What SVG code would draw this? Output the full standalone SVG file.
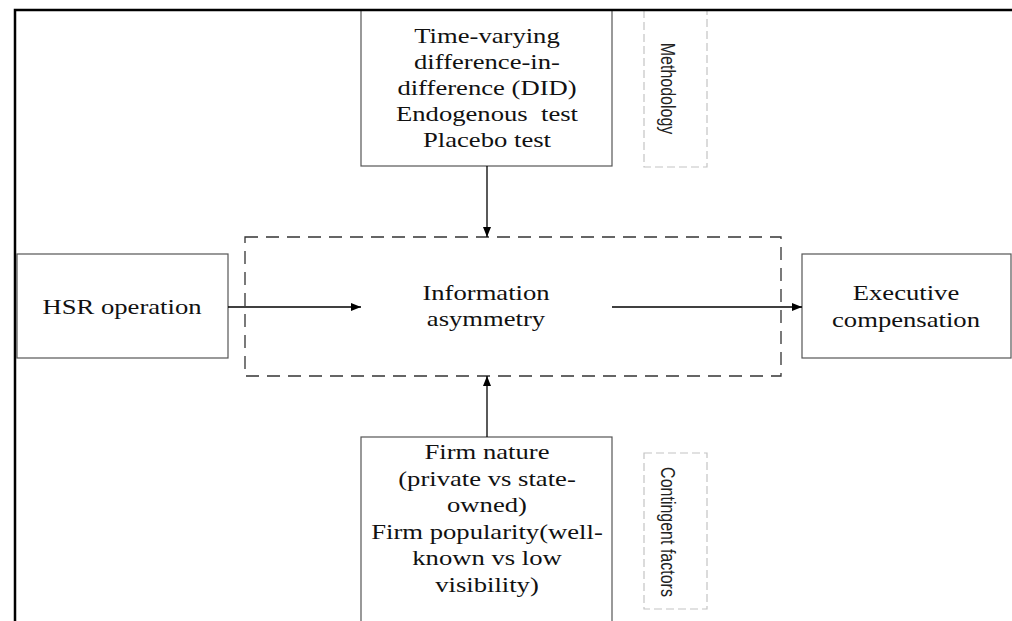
<svg xmlns="http://www.w3.org/2000/svg" width="1012" height="621" viewBox="0 0 1012 621">
  <defs>
    <marker id="arr" viewBox="0 0 10 8" refX="10" refY="4" markerWidth="10" markerHeight="8" markerUnits="userSpaceOnUse" orient="auto">
      <path d="M0,0 L10,4 L0,8 z" fill="#000"/>
    </marker>
  </defs>
  <style>
    .box { fill: #fff; stroke: #555; stroke-width: 1.2; }
    .dash { fill: none; stroke: #333; stroke-width: 1.3; stroke-dasharray: 13 8; }
    .ldash { fill: none; stroke: #c4c4c4; stroke-width: 1.2; stroke-dasharray: 8 4; }
    .frame { stroke: #000; stroke-width: 2.5; fill: none; }
    .t { font-family: "Liberation Serif", "Times New Roman", serif; font-size: 20.5px; fill: #111; text-anchor: middle; }
    .s { font-family: "Liberation Sans", Arial, sans-serif; font-size: 16px; fill: #222; text-anchor: middle; }
    .conn { stroke: #000; stroke-width: 1.3; fill: none; marker-end: url(#arr); }
  </style>
  <rect width="1012" height="621" fill="#fff"/>

  <g id="info-area">
    <rect class="dash" x="245" y="237" width="536" height="139"/>
    <text class="t" transform="translate(486,300) scale(1.3,1)">Information</text>
    <text class="t" transform="translate(486,326) scale(1.3,1)">asymmetry</text>
  </g>

  <g id="methodology">
    <rect class="box" x="361" y="10" width="251" height="156"/>
    <text class="t" transform="translate(487,43) scale(1.3,1)">Time-varying</text>
    <text class="t" transform="translate(487,69) scale(1.3,1)">difference-in-</text>
    <text class="t" transform="translate(487,95) scale(1.3,1)">difference (DID)</text>
    <text class="t" transform="translate(487,121) scale(1.3,1)" xml:space="preserve">Endogenous  test</text>
    <text class="t" transform="translate(487,147) scale(1.3,1)">Placebo test</text>
  </g>

  <g id="methodology-label">
    <rect class="ldash" x="644" y="10" width="63" height="157"/>
    <text class="s" transform="translate(661,88.5) scale(1.3,1) rotate(90)">Methodology</text>
  </g>

  <g id="contingent">
    <rect class="box" x="361" y="437" width="251" height="190"/>
    <text class="t" transform="translate(487,459) scale(1.3,1)">Firm nature</text>
    <text class="t" transform="translate(487,485.5) scale(1.3,1)">(private vs state-</text>
    <text class="t" transform="translate(487,512) scale(1.3,1)">owned)</text>
    <text class="t" transform="translate(487,538.5) scale(1.3,1)">Firm popularity(well-</text>
    <text class="t" transform="translate(487,565) scale(1.3,1)">known vs low</text>
    <text class="t" transform="translate(487,591.5) scale(1.3,1)">visibility)</text>
  </g>

  <g id="contingent-label">
    <rect class="ldash" x="644" y="453" width="63" height="156"/>
    <text class="s" transform="translate(661,532) scale(1.3,1) rotate(90)">Contingent factors</text>
  </g>

  <g id="hsr">
    <rect class="box" x="17" y="254" width="211" height="104"/>
    <text class="t" transform="translate(122,314) scale(1.3,1)">HSR operation</text>
  </g>

  <g id="exec">
    <rect class="box" x="802" y="254" width="209" height="104"/>
    <text class="t" transform="translate(906,300) scale(1.3,1)">Executive</text>
    <text class="t" transform="translate(906,327) scale(1.3,1)">compensation</text>
  </g>

  <g id="connectors">
    <line class="conn" x1="228" y1="307" x2="361" y2="307"/>
    <line class="conn" x1="612" y1="307" x2="802" y2="307"/>
    <line class="conn" x1="487" y1="166" x2="487" y2="237"/>
    <line class="conn" x1="487" y1="437" x2="487" y2="376"/>
  </g>

  <g id="frame">
    <polyline class="frame" points="15,621 15,10 1012,10"/>
  </g>
</svg>
